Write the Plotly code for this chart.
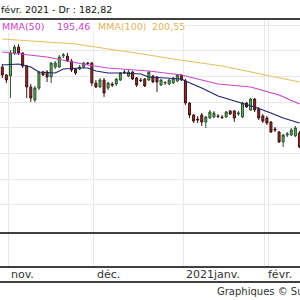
import plotly.graph_objects as go

dates = [
    "2020-10-29", "2020-10-30",
    "2020-11-02", "2020-11-03", "2020-11-04", "2020-11-05", "2020-11-06",
    "2020-11-09", "2020-11-10", "2020-11-11", "2020-11-12", "2020-11-13",
    "2020-11-16", "2020-11-17", "2020-11-18", "2020-11-19", "2020-11-20",
    "2020-11-23", "2020-11-24", "2020-11-25", "2020-11-26", "2020-11-27",
    "2020-11-30",
    "2020-12-01", "2020-12-02", "2020-12-03", "2020-12-04",
    "2020-12-07", "2020-12-08", "2020-12-09", "2020-12-10", "2020-12-11",
    "2020-12-14", "2020-12-15", "2020-12-16", "2020-12-17", "2020-12-18",
    "2020-12-21", "2020-12-22", "2020-12-23", "2020-12-24",
    "2020-12-28", "2020-12-29", "2020-12-30", "2020-12-31",
    "2021-01-04", "2021-01-05", "2021-01-06", "2021-01-07", "2021-01-08",
    "2021-01-11", "2021-01-12", "2021-01-13", "2021-01-14", "2021-01-15",
    "2021-01-18", "2021-01-19", "2021-01-20", "2021-01-21", "2021-01-22",
    "2021-01-25", "2021-01-26", "2021-01-27", "2021-01-28", "2021-01-29",
    "2021-02-01", "2021-02-02", "2021-02-03", "2021-02-04", "2021-02-05",
    "2021-02-08", "2021-02-09", "2021-02-10", "2021-02-11",
]

open_ = [201.83, 200.28, 200.08, 204.56, 205.72, 204.56, 202.03, 197.94, 195.42, 197.75,
         200.86, 200.86, 199.89, 201.83, 201.83, 203.97, 203.97, 203.00, 201.44, 201.44,
         201.83, 202.61, 202.61, 198.72, 197.94, 199.31, 197.75, 198.53, 198.53, 199.31,
         200.86, 200.08, 200.86, 199.69, 199.31, 199.50, 199.31, 200.08, 199.89, 198.33,
         198.72, 198.53, 198.72, 199.11, 200.28, 199.11, 194.83, 192.50, 191.72, 192.50,
         191.14, 191.92, 192.11, 192.31, 192.11, 192.11, 193.28, 193.28, 192.69, 192.11,
         194.83, 193.47, 195.61, 193.67, 192.31, 191.92, 191.14, 189.78, 189.19, 187.25,
         188.61, 188.61, 188.42, 189.00]
high = [202.42, 200.47, 205.14, 206.11, 206.31, 204.75, 202.22, 198.53, 198.14, 201.06,
        201.06, 201.25, 202.81, 203.00, 204.17, 204.56, 204.56, 203.39, 201.64, 202.22,
        202.81, 202.81, 202.81, 199.31, 199.69, 199.69, 198.92, 198.92, 199.69, 200.86,
        201.25, 201.25, 201.06, 199.89, 199.69, 199.69, 201.06, 200.28, 200.08, 199.50,
        199.11, 199.50, 199.89, 200.47, 200.47, 199.50, 195.03, 192.69, 192.31, 192.89,
        192.31, 193.47, 193.28, 192.69, 192.50, 193.28, 193.47, 193.47, 193.28, 195.03,
        195.03, 195.81, 195.81, 194.06, 192.69, 192.31, 191.33, 190.17, 189.39, 188.81,
        189.19, 189.97, 190.36, 189.39]
low = [199.69, 198.72, 195.81, 204.17, 204.17, 201.64, 195.81, 195.03, 195.03, 197.36,
       200.08, 198.92, 198.72, 201.44, 201.64, 203.58, 202.81, 200.86, 200.28, 201.25,
       201.64, 202.22, 198.14, 197.75, 197.75, 196.00, 197.36, 197.94, 198.14, 199.11,
       200.47, 199.89, 199.31, 197.94, 198.92, 197.94, 199.11, 198.72, 196.97, 198.14,
       198.33, 198.33, 198.53, 198.92, 199.11, 194.44, 191.92, 190.94, 190.94, 190.36,
       189.97, 191.72, 191.92, 191.92, 191.72, 191.92, 192.50, 191.14, 192.31, 191.92,
       193.86, 193.28, 193.08, 191.53, 190.94, 190.56, 189.00, 189.19, 187.06, 186.28,
       188.22, 188.42, 188.22, 186.08]
close = [200.28, 199.31, 204.56, 205.72, 204.56, 202.03, 197.94, 195.81, 197.75, 200.86,
         200.28, 199.89, 202.61, 202.61, 203.78, 204.17, 203.00, 201.25, 200.67, 201.83,
         202.61, 202.50, 198.72, 197.94, 199.31, 196.78, 198.72, 198.33, 199.50, 200.67,
         200.76, 200.86, 199.50, 198.33, 199.20, 198.14, 200.86, 198.92, 198.92, 199.31,
         198.82, 199.31, 199.69, 200.28, 199.31, 194.83, 192.50, 191.33, 191.53, 191.14,
         192.11, 193.08, 192.89, 192.20, 192.00, 193.08, 192.69, 191.92, 192.89, 194.83,
         194.06, 195.61, 193.47, 191.92, 191.33, 190.94, 189.19, 189.58, 187.25, 188.61,
         188.81, 189.58, 189.97, 186.28]

mma20_dates = ["2020-10-29", "2020-11-04", "2020-11-09", "2020-11-11", "2020-11-17",
               "2020-11-19", "2020-11-25", "2020-11-27", "2020-12-01", "2020-12-04",
               "2020-12-10", "2020-12-16", "2020-12-18", "2020-12-23", "2020-12-31",
               "2021-01-04", "2021-01-08", "2021-01-14", "2021-01-21", "2021-01-27",
               "2021-02-02", "2021-02-05", "2021-02-11"]
mma20 = [202.22, 202.42, 201.83, 200.86, 200.67, 201.44, 201.64, 201.64, 201.06, 200.67,
         200.67, 200.47, 199.89, 199.69, 199.50, 199.11, 197.75, 196.19, 195.03, 194.06,
         192.89, 191.92, 190.94]

mma50_dates = ["2020-10-29", "2020-11-13", "2020-11-27", "2020-12-04", "2020-12-18",
               "2020-12-31", "2021-01-14", "2021-01-26", "2021-02-04", "2021-02-11"]
mma50 = [204.75, 203.78, 202.22, 201.64, 201.06, 200.28, 198.53, 197.94, 196.39, 194.64]

mma100_dates = ["2020-10-29", "2020-11-24", "2020-12-18", "2020-12-29", "2021-01-15",
                "2021-01-26", "2021-02-11"]
mma100 = [207.28, 206.31, 204.17, 203.39, 202.03, 200.86, 198.92]

month_ticks = ["2020-11-02", "2020-12-01", "2021-01-04", "2021-02-01"]
month_labels = ["nov.", "déc.", "2021janv.", "févr."]
grid_values = [175, 180, 185, 190, 195, 200, 205, 210]

title_text = "févr. 2021 - Dr : 182,82"
legend_parts = [("MMA(50)", "#cc3fcc", 0), ("195,46", "#cc3fcc", 55),
                ("MMA(100)", "#e2b35a", 96), ("200,55", "#e2b35a", 150)]
credit_text = "Graphiques © Su"

W, H = 300, 300
FONT = "DejaVu Sans"

fig = go.Figure()
fig.add_trace(go.Candlestick(
    x=dates, open=open_, high=high, low=low, close=close,
    increasing=dict(line=dict(color="#2f4f2f", width=1), fillcolor="#5cb85c"),
    decreasing=dict(line=dict(color="#3a1616", width=1), fillcolor="#a32626"),
    whiskerwidth=0, showlegend=False, hoverinfo="skip",
))
fig.add_trace(go.Scatter(x=mma100_dates, y=mma100, mode="lines",
                         line=dict(color="#e6bf62", width=1.2), showlegend=False, hoverinfo="skip"))
fig.add_trace(go.Scatter(x=mma50_dates, y=mma50, mode="lines",
                         line=dict(color="#cc44cc", width=1.2), showlegend=False, hoverinfo="skip"))
fig.add_trace(go.Scatter(x=mma20_dates, y=mma20, mode="lines",
                         line=dict(color="#22226e", width=1.2), showlegend=False, hoverinfo="skip"))

n = len(dates)
fig.update_layout(
    width=W, height=H, margin=dict(l=0, r=0, t=0, b=0),
    paper_bgcolor="white", plot_bgcolor="white",
    xaxis=dict(type="category", categoryorder="array", categoryarray=dates,
               range=[-0.565, n - 1 + 0.14], rangeslider=dict(visible=False),
               tickmode="array", tickvals=month_ticks, tickson="boundaries",
               showticklabels=False, ticks="", showgrid=True, gridcolor="#e8e8e8",
               gridwidth=1, zeroline=False, showline=False, fixedrange=True),
    yaxis=dict(domain=[0.11, 0.9367], range=[162.94, 211.17],
               tickmode="array", tickvals=grid_values, showticklabels=False,
               showgrid=True, gridcolor="#e8e8e8", gridwidth=1, zeroline=False,
               showline=False, ticks="", fixedrange=True),
    showlegend=False,
)

shapes = []
for ypx in [19, 233, 267, 282]:
    shapes.append(dict(type="line", xref="paper", yref="paper", x0=0, x1=1,
                       y0=1 - ypx / H, y1=1 - ypx / H, line=dict(color="black", width=1.5),
                       layer="above"))
shapes.append(dict(type="rect", xref="paper", yref="paper", x0=0, x1=185 / W,
                   y0=1 - 33 / H, y1=1 - 20 / H, fillcolor="white", line=dict(width=0),
                   layer="above"))
fig.update_layout(shapes=shapes)

ann = []
ann.append(dict(text=title_text, xref="paper", yref="paper", x=-1 / W, y=1 - 10 / H,
                xanchor="left", yanchor="middle", showarrow=False,
                font=dict(family=FONT, size=9.5, color="#111")))
for txt, col, xp in legend_parts:
    ann.append(dict(text=txt, xref="paper", yref="paper", x=xp / W, y=1 - 27 / H,
                    xanchor="left", yanchor="middle", showarrow=False,
                    font=dict(family=FONT, size=9.5, color=col)))
for d, lab in zip(month_ticks, month_labels):
    ann.append(dict(text=lab, xref="x", yref="paper", x=dates.index(d) - 0.5,
                    y=1 - 274.5 / H, xanchor="left", yanchor="middle", xshift=1,
                    showarrow=False, font=dict(family=FONT, size=11, color="#333")))
ann.append(dict(text=credit_text, xref="paper", yref="paper", x=215 / W, y=1 - 291 / H,
                xanchor="left", yanchor="middle", showarrow=False,
                font=dict(family=FONT, size=10, color="#333")))
fig.update_layout(annotations=ann)

fig.write_html("out.html")
